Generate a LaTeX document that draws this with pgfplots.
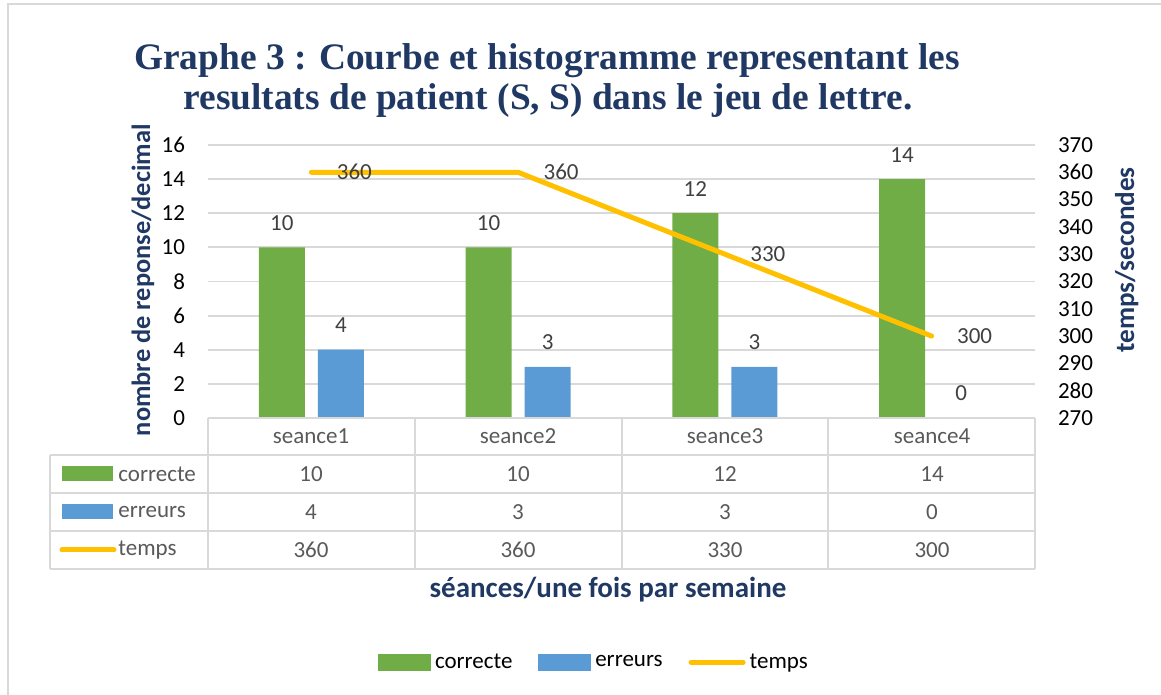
\documentclass[border=0pt]{standalone}
\usepackage{fontspec}
\setmainfont{Carlito}
\newfontfamily\titlefont{Liberation Serif}
\usepackage{pgfplots}
\usepackage{pgfplotstable}
\pgfplotsset{compat=1.18}

\definecolor{cgreen}{RGB}{112,173,71}
\definecolor{cblue}{RGB}{91,155,213}
\definecolor{cyellow}{RGB}{255,192,0}
\definecolor{navy}{RGB}{31,56,100}
\definecolor{gridgray}{RGB}{217,217,217}
\definecolor{labgray}{RGB}{64,64,64}
\definecolor{tabgray}{RGB}{89,89,89}

% seances, one row each
\pgfplotstableread{
x correcte erreurs temps
0 10 4 360
1 10 3 360
2 12 3 330
3 14 0 300
}\resultats

\newcommand{\smallfont}{\fontsize{11.5}{13}\selectfont}

\begin{document}
\begin{tikzpicture}[x=1pt,y=1pt]
\useasboundingbox (0,0) rectangle (580.5,347.5);
\draw[gridgray, line width=1.2pt] (4,0) -- (4,345.5) -- (580.5,345.5);

% title
\node[font=\titlefont\bfseries\fontsize{18.7}{20}\selectfont, text=navy, anchor=base] at (273.5,312.5)
  {Graphe 3 : Courbe et histogramme representant les};
\node[font=\titlefont\bfseries\fontsize{18.7}{20}\selectfont, text=navy, anchor=base] at (274,292.5)
  {resultats de patient (S, S) dans le jeu de lettre.};

\begin{scope}[shift={(104pt,138.5pt)}]
\begin{axis}[
    anchor=south west,
    scale only axis, width=413.5pt, height=136.5pt,
    xmin=-0.5, xmax=3.5, ymin=0, ymax=16,
    ytick={0,2,...,16}, xtick=\empty,
    axis line style={draw=none}, major tick length=0pt,
    ymajorgrids, grid style={gridgray, line width=0.9pt},
    ybar, bar width=23pt,
    /pgf/number format/assume math mode=true,
    yticklabel style={font=\smallfont, text=black, xshift=-8pt},
    ylabel={nombre de reponse/decimal},
    ylabel style={at={(axis description cs:-0.0786,0.505)}, anchor=center,
        font=\bfseries\fontsize{13.2}{15}\selectfont, text=navy},
    xlabel={séances/une fois par semaine},
    xlabel style={at={(axis description cs:0.4837,-0.630)}, anchor=center,
        font=\bfseries\fontsize{14.5}{16}\selectfont, text=navy},
    nodes near coords,
    every node near coord/.append style={font=\smallfont, text=labgray, yshift=5pt},
    clip=false,
]
\addplot[fill=cgreen, draw=none, bar shift=-14.75pt] table[x=x,y=correcte]{\resultats};
\addplot[fill=cblue, draw=none, bar shift=14.75pt] table[x=x,y=erreurs]{\resultats};
\end{axis}

\begin{axis}[
    anchor=south west,
    scale only axis, width=413.5pt, height=136.5pt,
    xmin=-0.5, xmax=3.5, ymin=270, ymax=370,
    ytick={270,280,...,370}, xtick=\empty,
    axis y line*=right, axis x line=none,
    axis line style={draw=none}, major tick length=0pt,
    /pgf/number format/assume math mode=true,
    yticklabel style={font=\smallfont, text=black, xshift=8pt},
    ylabel={temps/secondes},
    ylabel style={at={(axis description cs:1.111,0.579)}, anchor=center,
        font=\bfseries\fontsize{13.6}{15}\selectfont, text=navy},
    legend style={at={(axis description cs:0.468,-0.894)}, anchor=center, draw=none, fill=none,
        font=\smallfont, text=black, legend columns=-1,
        nodes={text depth=0.25ex},
        /tikz/every even column/.append style={column sep=11pt}},
    clip=false,
]
\addlegendimage{legend image code/.code={\fill[cgreen] (0pt,-4pt) rectangle (26pt,4pt);}}
\addlegendentry{correcte}
\addlegendimage{legend image code/.code={\fill[cblue] (0pt,-4pt) rectangle (26pt,4pt);}}
\addlegendentry{erreurs}
\addplot[cyellow, line width=2.5pt, line cap=round, line join=round,
    legend image code/.code={\draw[cyellow, line width=2.5pt, line cap=round] (1pt,0pt) -- (27pt,0pt);},
    nodes near coords,
    every node near coord/.style={anchor=west, inner sep=0pt, xshift=11.5pt, font=\smallfont, text=labgray}]
    table[x=x,y=temps]{\resultats};
\addlegendentry{temps}
\end{axis}
\end{scope}

% data table under the chart
\begin{scope}[gridgray, line width=0.9pt]
\draw (104,138.5) -- (517.5,138.5);
\foreach \y in {120,101,82,63} \draw (25,\y) -- (517.5,\y);
\foreach \x in {104,207.5,311,414,517.5} \draw (\x,138.5) -- (\x,63);
\draw (25,120) -- (25,63);
\end{scope}
\foreach \cx/\s/\a/\b/\t in {155.5/seance1/10/4/360, 259/seance2/10/3/360, 362.5/seance3/12/3/330, 466/seance4/14/0/300}{
  \node[font=\smallfont, text=tabgray] at (\cx,129.5) {\s};
  \node[font=\smallfont, text=tabgray] at (\cx,110.5) {\a};
  \node[font=\smallfont, text=tabgray] at (\cx,91.5) {\b};
  \node[font=\smallfont, text=tabgray] at (\cx,72.5) {\t};
}
\fill[cgreen] (31,106.75) rectangle (56.5,114.25);
\fill[cblue] (31,87.75) rectangle (56.5,95.25);
\draw[cyellow, line width=2.5pt, line cap=round] (31,72.5) -- (57,72.5);
\node[font=\smallfont, text=tabgray, anchor=west, inner sep=0pt] at (59,110.5) {correcte};
\node[font=\smallfont, text=tabgray, anchor=west, inner sep=0pt] at (59,91.5) {erreurs};
\node[font=\smallfont, text=tabgray, anchor=west, inner sep=0pt] at (59,72.5) {temps};
\end{tikzpicture}
\end{document}
